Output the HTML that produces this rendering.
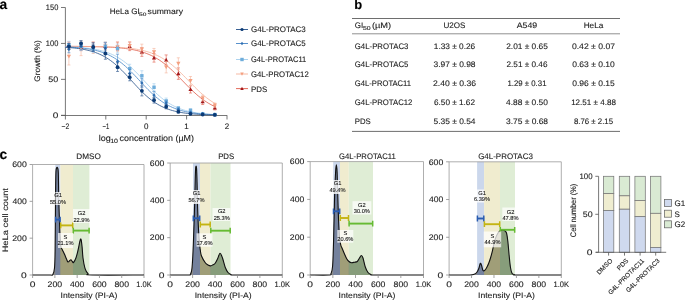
<!DOCTYPE html>
<html><head><meta charset="utf-8"><style>
html,body{margin:0;padding:0;background:#fff;width:685px;height:300px;overflow:hidden}
svg{display:block;font-family:"Liberation Sans", sans-serif;will-change:transform;text-rendering:geometricPrecision}
text{stroke:#1a1a1a;stroke-width:0.1px}
</style></head><body>
<svg width="685" height="300" viewBox="0 0 685 300">
<rect width="685" height="300" fill="#fff"/>
<text x="-0.5" y="8.8" font-size="13.8" font-weight="bold" fill="#000">a</text>
<path d="M65.4,7.5 V115.5 M61,115.5 H227.2" stroke="#555" stroke-width="0.8" fill="none"/>
<path d="M61,115.3 H65.4" stroke="#555" stroke-width="0.8"/>
<text x="58.3" y="118.1" font-size="8" text-anchor="end" textLength="5.59" lengthAdjust="spacingAndGlyphs" fill="#1a1a1a">0</text>
<path d="M61,79.36 H65.4" stroke="#555" stroke-width="0.8"/>
<text x="58.3" y="82.16" font-size="8" text-anchor="end" textLength="9.91" lengthAdjust="spacingAndGlyphs" fill="#1a1a1a">50</text>
<path d="M61,43.43 H65.4" stroke="#555" stroke-width="0.8"/>
<text x="58.3" y="46.23" font-size="8" text-anchor="end" textLength="12.45" lengthAdjust="spacingAndGlyphs" fill="#1a1a1a">100</text>
<path d="M61,7.49 H65.4" stroke="#555" stroke-width="0.8"/>
<text x="58.3" y="10.29" font-size="8" text-anchor="end" textLength="12.45" lengthAdjust="spacingAndGlyphs" fill="#1a1a1a">150</text>
<path d="M65.4,115.5 V119.5" stroke="#555" stroke-width="0.8"/>
<text x="65.4" y="128.6" font-size="8" text-anchor="middle" textLength="7.67" lengthAdjust="spacingAndGlyphs" fill="#1a1a1a">−2</text>
<path d="M105.8,115.5 V119.5" stroke="#555" stroke-width="0.8"/>
<text x="105.8" y="128.6" font-size="8" text-anchor="middle" textLength="6.78" lengthAdjust="spacingAndGlyphs" fill="#1a1a1a">−1</text>
<path d="M146.2,115.5 V119.5" stroke="#555" stroke-width="0.8"/>
<text x="146.2" y="128.6" font-size="8" text-anchor="middle" fill="#1a1a1a">0</text>
<path d="M186.6,115.5 V119.5" stroke="#555" stroke-width="0.8"/>
<text x="186.6" y="128.6" font-size="8" text-anchor="middle" fill="#1a1a1a">1</text>
<path d="M227,115.5 V119.5" stroke="#555" stroke-width="0.8"/>
<text x="227" y="128.6" font-size="8" text-anchor="middle" fill="#1a1a1a">2</text>
<text transform="translate(40.3,61) rotate(-90)" font-size="8" text-anchor="middle" textLength="41.43" lengthAdjust="spacingAndGlyphs" fill="#1a1a1a">Growth (%)</text>
<text x="98.8" y="140.5" font-size="8.6" textLength="11.99" lengthAdjust="spacingAndGlyphs" fill="#1a1a1a">log</text>
<text x="110.2" y="142.6" font-size="6.2" textLength="7.81" lengthAdjust="spacingAndGlyphs" fill="#1a1a1a">10</text>
<text x="119.5" y="140.5" font-size="8.6" textLength="74.53" lengthAdjust="spacingAndGlyphs" fill="#1a1a1a">concentration (µM)</text>
<text x="109.7" y="13.9" font-size="8" textLength="30" lengthAdjust="spacingAndGlyphs" fill="#1a1a1a">HeLa GI</text>
<text x="139.1" y="15.7" font-size="5" textLength="7.33" lengthAdjust="spacingAndGlyphs" fill="#1a1a1a">50</text>
<text x="147.6" y="13.9" font-size="8" textLength="35.35" lengthAdjust="spacingAndGlyphs" fill="#1a1a1a">summary</text>
<path d="M65.4,46.37 L67.28,46.37 L69.16,46.38 L71.04,46.39 L72.91,46.4 L74.79,46.41 L76.67,46.43 L78.55,46.44 L80.43,46.46 L82.31,46.48 L84.19,46.5 L86.06,46.52 L87.94,46.54 L89.82,46.57 L91.7,46.6 L93.58,46.64 L95.46,46.68 L97.34,46.72 L99.21,46.77 L101.09,46.83 L102.97,46.89 L104.85,46.96 L106.73,47.03 L108.61,47.12 L110.49,47.22 L112.37,47.32 L114.24,47.44 L116.12,47.58 L118,47.72 L119.88,47.89 L121.76,48.07 L123.64,48.28 L125.52,48.5 L127.39,48.76 L129.27,49.04 L131.15,49.35 L133.03,49.69 L134.91,50.07 L136.79,50.49 L138.67,50.96 L140.54,51.47 L142.42,52.03 L144.3,52.65 L146.18,53.33 L148.06,54.07 L149.94,54.88 L151.82,55.76 L153.69,56.72 L155.57,57.75 L157.45,58.86 L159.33,60.06 L161.21,61.34 L163.09,62.7 L164.97,64.15 L166.84,65.68 L168.72,67.28 L170.6,68.96 L172.48,70.7 L174.36,72.5 L176.24,74.35 L178.12,76.24 L179.99,78.16 L181.87,80.09 L183.75,82.03 L185.63,83.96 L187.51,85.87 L189.39,87.75 L191.27,89.59 L193.14,91.38 L195.02,93.1 L196.9,94.76 L198.78,96.34 L200.66,97.85 L202.54,99.27 L204.42,100.62 L206.29,101.87 L208.17,103.05 L210.05,104.14 L211.93,105.15 L213.81,106.09 L215.69,106.95" stroke="#e05a48" stroke-width="0.8" fill="none"/>
<path d="M65.4,46.35 L67.28,46.35 L69.16,46.36 L71.04,46.37 L72.91,46.37 L74.79,46.38 L76.67,46.39 L78.55,46.4 L80.43,46.41 L82.31,46.42 L84.19,46.44 L86.06,46.45 L87.94,46.47 L89.82,46.49 L91.7,46.51 L93.58,46.54 L95.46,46.57 L97.34,46.6 L99.21,46.63 L101.09,46.67 L102.97,46.71 L104.85,46.76 L106.73,46.81 L108.61,46.87 L110.49,46.94 L112.37,47.02 L114.24,47.1 L116.12,47.19 L118,47.3 L119.88,47.41 L121.76,47.54 L123.64,47.69 L125.52,47.85 L127.39,48.03 L129.27,48.23 L131.15,48.45 L133.03,48.7 L134.91,48.97 L136.79,49.27 L138.67,49.61 L140.54,49.98 L142.42,50.39 L144.3,50.85 L146.18,51.35 L148.06,51.9 L149.94,52.51 L151.82,53.17 L153.69,53.9 L155.57,54.69 L157.45,55.56 L159.33,56.49 L161.21,57.51 L163.09,58.61 L164.97,59.78 L166.84,61.04 L168.72,62.39 L170.6,63.82 L172.48,65.33 L174.36,66.91 L176.24,68.58 L178.12,70.3 L179.99,72.09 L181.87,73.93 L183.75,75.81 L185.63,77.72 L187.51,79.66 L189.39,81.59 L191.27,83.53 L193.14,85.44 L195.02,87.33 L196.9,89.18 L198.78,90.98 L200.66,92.72 L202.54,94.39 L204.42,95.99 L206.29,97.52 L208.17,98.96 L210.05,100.32 L211.93,101.6 L213.81,102.79 L215.69,103.9" stroke="#f5b199" stroke-width="0.8" fill="none"/>
<path d="M65.4,46.8 L67.28,46.86 L69.16,46.92 L71.04,47 L72.91,47.09 L74.79,47.18 L76.67,47.29 L78.55,47.41 L80.43,47.55 L82.31,47.7 L84.19,47.87 L86.06,48.06 L87.94,48.28 L89.82,48.52 L91.7,48.78 L93.58,49.08 L95.46,49.41 L97.34,49.78 L99.21,50.19 L101.09,50.64 L102.97,51.15 L104.85,51.71 L106.73,52.32 L108.61,53 L110.49,53.75 L112.37,54.57 L114.24,55.46 L116.12,56.44 L118,57.5 L119.88,58.65 L121.76,59.89 L123.64,61.22 L125.52,62.64 L127.39,64.16 L129.27,65.76 L131.15,67.45 L133.03,69.21 L134.91,71.05 L136.79,72.95 L138.67,74.9 L140.54,76.89 L142.42,78.9 L144.3,80.93 L146.18,82.96 L148.06,84.98 L149.94,86.96 L151.82,88.91 L153.69,90.8 L155.57,92.62 L157.45,94.38 L159.33,96.06 L161.21,97.65 L163.09,99.15 L164.97,100.56 L166.84,101.88 L168.72,103.11 L170.6,104.24 L172.48,105.29 L174.36,106.26 L176.24,107.15 L178.12,107.96 L179.99,108.69 L181.87,109.36 L183.75,109.97 L185.63,110.52 L187.51,111.02 L189.39,111.47 L191.27,111.88 L193.14,112.24 L195.02,112.57 L196.9,112.86 L198.78,113.12 L200.66,113.36 L202.54,113.57 L204.42,113.76 L206.29,113.92 L208.17,114.07 L210.05,114.21 L211.93,114.33 L213.81,114.43 L215.69,114.53" stroke="#a2cdec" stroke-width="0.8" fill="none"/>
<path d="M65.4,46.95 L67.28,47.03 L69.16,47.12 L71.04,47.22 L72.91,47.33 L74.79,47.46 L76.67,47.6 L78.55,47.76 L80.43,47.94 L82.31,48.14 L84.19,48.36 L86.06,48.61 L87.94,48.89 L89.82,49.2 L91.7,49.54 L93.58,49.92 L95.46,50.35 L97.34,50.82 L99.21,51.35 L101.09,51.93 L102.97,52.56 L104.85,53.27 L106.73,54.04 L108.61,54.89 L110.49,55.81 L112.37,56.82 L114.24,57.91 L116.12,59.09 L118,60.37 L119.88,61.73 L121.76,63.19 L123.64,64.73 L125.52,66.37 L127.39,68.08 L129.27,69.88 L131.15,71.74 L133.03,73.66 L134.91,75.62 L136.79,77.62 L138.67,79.65 L140.54,81.68 L142.42,83.7 L144.3,85.71 L146.18,87.68 L148.06,89.6 L149.94,91.47 L151.82,93.27 L153.69,95 L155.57,96.65 L157.45,98.21 L159.33,99.68 L161.21,101.05 L163.09,102.34 L164.97,103.53 L166.84,104.64 L168.72,105.66 L170.6,106.59 L172.48,107.45 L174.36,108.23 L176.24,108.95 L178.12,109.59 L179.99,110.18 L181.87,110.71 L183.75,111.19 L185.63,111.62 L187.51,112.01 L189.39,112.36 L191.27,112.68 L193.14,112.96 L195.02,113.21 L196.9,113.44 L198.78,113.64 L200.66,113.82 L202.54,113.98 L204.42,114.12 L206.29,114.25 L208.17,114.37 L210.05,114.47 L211.93,114.56 L213.81,114.64 L215.69,114.72" stroke="#4585c6" stroke-width="0.8" fill="none"/>
<path d="M65.4,47.3 L67.28,47.42 L69.16,47.56 L71.04,47.72 L72.91,47.89 L74.79,48.09 L76.67,48.31 L78.55,48.55 L80.43,48.83 L82.31,49.14 L84.19,49.48 L86.06,49.87 L87.94,50.3 L89.82,50.77 L91.7,51.3 L93.58,51.88 L95.46,52.53 L97.34,53.24 L99.21,54.03 L101.09,54.89 L102.97,55.83 L104.85,56.86 L106.73,57.98 L108.61,59.19 L110.49,60.49 L112.37,61.89 L114.24,63.39 L116.12,64.97 L118,66.65 L119.88,68.41 L121.76,70.25 L123.64,72.16 L125.52,74.13 L127.39,76.14 L129.27,78.18 L131.15,80.25 L133.03,82.31 L134.91,84.37 L136.79,86.4 L138.67,88.39 L140.54,90.33 L142.42,92.21 L144.3,94.02 L146.18,95.74 L148.06,97.38 L149.94,98.92 L151.82,100.37 L153.69,101.73 L155.57,102.99 L157.45,104.15 L159.33,105.23 L161.21,106.22 L163.09,107.12 L164.97,107.95 L166.84,108.7 L168.72,109.38 L170.6,110 L172.48,110.56 L174.36,111.06 L176.24,111.51 L178.12,111.92 L179.99,112.28 L181.87,112.61 L183.75,112.91 L185.63,113.17 L187.51,113.4 L189.39,113.61 L191.27,113.8 L193.14,113.96 L195.02,114.11 L196.9,114.24 L198.78,114.36 L200.66,114.47 L202.54,114.56 L204.42,114.64 L206.29,114.72 L208.17,114.78 L210.05,114.84 L211.93,114.89 L213.81,114.94 L215.69,114.98" stroke="#234f88" stroke-width="0.8" fill="none"/>
<path d="M68.9,41.99 V49.18 M67.3,41.99 H70.4 M67.4,49.18 H70.4" stroke="#e05a48" stroke-width="0.6"/>
<path d="M68.9,43.49 L71,47.27 L66.8,47.27Z" fill="#a3191c"/>
<path d="M81.06,43.43 V50.62 M79.46,43.43 H82.56 M79.56,50.62 H82.56" stroke="#e05a48" stroke-width="0.6"/>
<path d="M81.06,44.92 L83.16,48.7 L78.96,48.7Z" fill="#a3191c"/>
<path d="M93.22,41.99 V50.62 M91.62,41.99 H94.72 M91.72,50.62 H94.72" stroke="#e05a48" stroke-width="0.6"/>
<path d="M93.22,44.2 L95.32,47.98 L91.12,47.98Z" fill="#a3191c"/>
<path d="M105.39,42.71 V49.9 M103.79,42.71 H106.89 M103.89,49.9 H106.89" stroke="#e05a48" stroke-width="0.6"/>
<path d="M105.39,44.2 L107.49,47.98 L103.29,47.98Z" fill="#a3191c"/>
<path d="M117.55,41.99 V50.62 M115.95,41.99 H119.05 M116.05,50.62 H119.05" stroke="#e05a48" stroke-width="0.6"/>
<path d="M117.55,44.2 L119.65,47.98 L115.45,47.98Z" fill="#a3191c"/>
<path d="M129.71,41.99 V50.62 M128.11,41.99 H131.21 M128.21,50.62 H131.21" stroke="#e05a48" stroke-width="0.6"/>
<path d="M129.71,44.2 L131.81,47.98 L127.61,47.98Z" fill="#a3191c"/>
<path d="M141.87,47.74 V56.37 M140.27,47.74 H143.37 M140.37,56.37 H143.37" stroke="#e05a48" stroke-width="0.6"/>
<path d="M141.87,49.95 L143.97,53.73 L139.77,53.73Z" fill="#a3191c"/>
<path d="M154.03,53.49 V62.12 M152.43,53.49 H155.53 M152.53,62.12 H155.53" stroke="#e05a48" stroke-width="0.6"/>
<path d="M154.03,55.7 L156.13,59.48 L151.93,59.48Z" fill="#a3191c"/>
<path d="M166.19,54.93 V64.99 M164.59,54.93 H167.69 M164.69,64.99 H167.69" stroke="#e05a48" stroke-width="0.6"/>
<path d="M166.19,57.86 L168.29,61.64 L164.09,61.64Z" fill="#a3191c"/>
<path d="M178.35,67.87 V79.36 M176.75,67.87 H179.85 M176.85,79.36 H179.85" stroke="#e05a48" stroke-width="0.6"/>
<path d="M178.35,71.52 L180.45,75.3 L176.25,75.3Z" fill="#a3191c"/>
<path d="M190.52,85.83 V93.02 M188.92,85.83 H192.02 M189.02,93.02 H192.02" stroke="#e05a48" stroke-width="0.6"/>
<path d="M190.52,87.33 L192.62,91.11 L188.42,91.11Z" fill="#a3191c"/>
<path d="M202.68,98.77 V104.52 M201.08,98.77 H204.18 M201.18,104.52 H204.18" stroke="#e05a48" stroke-width="0.6"/>
<path d="M202.68,99.54 L204.78,103.32 L200.58,103.32Z" fill="#a3191c"/>
<path d="M214.84,105.6 V109.91 M213.24,105.6 H216.34 M213.34,109.91 H216.34" stroke="#e05a48" stroke-width="0.6"/>
<path d="M214.84,105.65 L216.94,109.43 L212.74,109.43Z" fill="#a3191c"/>
<path d="M68.9,47.74 V64.99 M67.3,47.74 H70.4 M67.4,64.99 H70.4" stroke="#f5b199" stroke-width="0.6"/>
<path d="M68.9,58.47 L71,54.69 L66.8,54.69Z" fill="#f4a080"/>
<path d="M81.06,41.27 V55.65 M79.46,41.27 H82.56 M79.56,55.65 H82.56" stroke="#f5b199" stroke-width="0.6"/>
<path d="M81.06,50.56 L83.16,46.78 L78.96,46.78Z" fill="#f4a080"/>
<path d="M93.22,44.87 V53.49 M91.62,44.87 H94.72 M91.72,53.49 H94.72" stroke="#f5b199" stroke-width="0.6"/>
<path d="M93.22,51.28 L95.32,47.5 L91.12,47.5Z" fill="#f4a080"/>
<path d="M105.39,41.99 V50.62 M103.79,41.99 H106.89 M103.89,50.62 H106.89" stroke="#f5b199" stroke-width="0.6"/>
<path d="M105.39,48.4 L107.49,44.62 L103.29,44.62Z" fill="#f4a080"/>
<path d="M117.55,42.71 V51.34 M115.95,42.71 H119.05 M116.05,51.34 H119.05" stroke="#f5b199" stroke-width="0.6"/>
<path d="M117.55,49.12 L119.65,45.34 L115.45,45.34Z" fill="#f4a080"/>
<path d="M129.71,41.99 V49.18 M128.11,41.99 H131.21 M128.21,49.18 H131.21" stroke="#f5b199" stroke-width="0.6"/>
<path d="M129.71,47.69 L131.81,43.91 L127.61,43.91Z" fill="#f4a080"/>
<path d="M141.87,44.15 V54.21 M140.27,44.15 H143.37 M140.37,54.21 H143.37" stroke="#f5b199" stroke-width="0.6"/>
<path d="M141.87,51.28 L143.97,47.5 L139.77,47.5Z" fill="#f4a080"/>
<path d="M154.03,48.46 V55.65 M152.43,48.46 H155.53 M152.53,55.65 H155.53" stroke="#f5b199" stroke-width="0.6"/>
<path d="M154.03,54.15 L156.13,50.37 L151.93,50.37Z" fill="#f4a080"/>
<path d="M166.19,61.4 V72.9 M164.59,61.4 H167.69 M164.69,72.9 H167.69" stroke="#f5b199" stroke-width="0.6"/>
<path d="M166.19,69.25 L168.29,65.47 L164.09,65.47Z" fill="#f4a080"/>
<path d="M178.35,57.8 V69.3 M176.75,57.8 H179.85 M176.85,69.3 H179.85" stroke="#f5b199" stroke-width="0.6"/>
<path d="M178.35,65.65 L180.45,61.87 L176.25,61.87Z" fill="#f4a080"/>
<path d="M190.52,76.49 V85.11 M188.92,76.49 H192.02 M189.02,85.11 H192.02" stroke="#f5b199" stroke-width="0.6"/>
<path d="M190.52,82.9 L192.62,79.12 L188.42,79.12Z" fill="#f4a080"/>
<path d="M202.68,95.18 V100.93 M201.08,95.18 H204.18 M201.18,100.93 H204.18" stroke="#f5b199" stroke-width="0.6"/>
<path d="M202.68,100.15 L204.78,96.37 L200.58,96.37Z" fill="#f4a080"/>
<path d="M214.84,103.08 V107.39 M213.24,103.08 H216.34 M213.34,107.39 H216.34" stroke="#f5b199" stroke-width="0.6"/>
<path d="M214.84,107.34 L216.94,103.56 L212.74,103.56Z" fill="#f4a080"/>
<path d="M68.9,41.27 V48.46 M67.3,41.27 H70.4 M67.4,48.46 H70.4" stroke="#a2cdec" stroke-width="0.6"/>
<rect x="67.2" y="43.17" width="3.4" height="3.4" fill="#6eaddb"/>
<path d="M81.06,41.99 V50.62 M79.46,41.99 H82.56 M79.56,50.62 H82.56" stroke="#a2cdec" stroke-width="0.6"/>
<rect x="79.36" y="44.6" width="3.4" height="3.4" fill="#6eaddb"/>
<path d="M93.22,45.59 V52.77 M91.62,45.59 H94.72 M91.72,52.77 H94.72" stroke="#a2cdec" stroke-width="0.6"/>
<rect x="91.52" y="47.48" width="3.4" height="3.4" fill="#6eaddb"/>
<path d="M105.39,41.99 V50.62 M103.79,41.99 H106.89 M103.89,50.62 H106.89" stroke="#a2cdec" stroke-width="0.6"/>
<rect x="103.69" y="44.6" width="3.4" height="3.4" fill="#6eaddb"/>
<path d="M117.55,44.15 V52.77 M115.95,44.15 H119.05 M116.05,52.77 H119.05" stroke="#a2cdec" stroke-width="0.6"/>
<rect x="115.85" y="46.76" width="3.4" height="3.4" fill="#6eaddb"/>
<path d="M129.71,64.27 V72.9 M128.11,64.27 H131.21 M128.21,72.9 H131.21" stroke="#a2cdec" stroke-width="0.6"/>
<rect x="128.01" y="66.88" width="3.4" height="3.4" fill="#6eaddb"/>
<path d="M141.87,70.74 V80.8 M140.27,70.74 H143.37 M140.37,80.8 H143.37" stroke="#a2cdec" stroke-width="0.6"/>
<rect x="140.17" y="74.07" width="3.4" height="3.4" fill="#6eaddb"/>
<path d="M154.03,83.68 V90.86 M152.43,83.68 H155.53 M152.53,90.86 H155.53" stroke="#a2cdec" stroke-width="0.6"/>
<rect x="152.33" y="85.57" width="3.4" height="3.4" fill="#6eaddb"/>
<path d="M166.19,98.05 V103.8 M164.59,98.05 H167.69 M164.69,103.8 H167.69" stroke="#a2cdec" stroke-width="0.6"/>
<rect x="164.49" y="99.23" width="3.4" height="3.4" fill="#6eaddb"/>
<path d="M178.35,106.68 V109.55 M176.75,106.68 H179.85 M176.85,109.55 H179.85" stroke="#a2cdec" stroke-width="0.6"/>
<rect x="176.65" y="106.41" width="3.4" height="3.4" fill="#6eaddb"/>
<path d="M190.52,108.83 V111.71 M188.92,108.83 H192.02 M189.02,111.71 H192.02" stroke="#a2cdec" stroke-width="0.6"/>
<rect x="188.82" y="108.57" width="3.4" height="3.4" fill="#6eaddb"/>
<path d="M202.68,113.14 V114.58 M201.08,113.14 H204.18 M201.18,114.58 H204.18" stroke="#a2cdec" stroke-width="0.6"/>
<rect x="200.98" y="112.16" width="3.4" height="3.4" fill="#6eaddb"/>
<path d="M214.84,113.86 V115.3 M213.24,113.86 H216.34 M213.34,115.3 H216.34" stroke="#a2cdec" stroke-width="0.6"/>
<rect x="213.14" y="112.88" width="3.4" height="3.4" fill="#6eaddb"/>
<path d="M68.9,45.59 V52.77 M67.3,45.59 H70.4 M67.4,52.77 H70.4" stroke="#4585c6" stroke-width="0.6"/>
<path d="M68.9,47.18 L70.5,49.18 L68.9,51.18 L67.3,49.18Z" fill="#2f6fb3"/>
<path d="M81.06,42.71 V49.9 M79.46,42.71 H82.56 M79.56,49.9 H82.56" stroke="#4585c6" stroke-width="0.6"/>
<path d="M81.06,44.3 L82.66,46.3 L81.06,48.3 L79.46,46.3Z" fill="#2f6fb3"/>
<path d="M93.22,44.15 V51.34 M91.62,44.15 H94.72 M91.72,51.34 H94.72" stroke="#4585c6" stroke-width="0.6"/>
<path d="M93.22,45.74 L94.82,47.74 L93.22,49.74 L91.62,47.74Z" fill="#2f6fb3"/>
<path d="M105.39,42.71 V54.21 M103.79,42.71 H106.89 M103.89,54.21 H106.89" stroke="#4585c6" stroke-width="0.6"/>
<path d="M105.39,46.46 L106.99,48.46 L105.39,50.46 L103.79,48.46Z" fill="#2f6fb3"/>
<path d="M117.55,54.21 V68.58 M115.95,54.21 H119.05 M116.05,68.58 H119.05" stroke="#4585c6" stroke-width="0.6"/>
<path d="M117.55,59.4 L119.15,61.4 L117.55,63.4 L115.95,61.4Z" fill="#2f6fb3"/>
<path d="M129.71,69.3 V77.93 M128.11,69.3 H131.21 M128.21,77.93 H131.21" stroke="#4585c6" stroke-width="0.6"/>
<path d="M129.71,71.62 L131.31,73.62 L129.71,75.62 L128.11,73.62Z" fill="#2f6fb3"/>
<path d="M141.87,78.65 V87.27 M140.27,78.65 H143.37 M140.37,87.27 H143.37" stroke="#4585c6" stroke-width="0.6"/>
<path d="M141.87,80.96 L143.47,82.96 L141.87,84.96 L140.27,82.96Z" fill="#2f6fb3"/>
<path d="M154.03,91.58 V98.77 M152.43,91.58 H155.53 M152.53,98.77 H155.53" stroke="#4585c6" stroke-width="0.6"/>
<path d="M154.03,93.18 L155.63,95.18 L154.03,97.18 L152.43,95.18Z" fill="#2f6fb3"/>
<path d="M166.19,100.93 V105.24 M164.59,100.93 H167.69 M164.69,105.24 H167.69" stroke="#4585c6" stroke-width="0.6"/>
<path d="M166.19,101.08 L167.79,103.08 L166.19,105.08 L164.59,103.08Z" fill="#2f6fb3"/>
<path d="M178.35,108.11 V110.99 M176.75,108.11 H179.85 M176.85,110.99 H179.85" stroke="#4585c6" stroke-width="0.6"/>
<path d="M178.35,107.55 L179.95,109.55 L178.35,111.55 L176.75,109.55Z" fill="#2f6fb3"/>
<path d="M190.52,111.71 V113.14 M188.92,111.71 H192.02 M189.02,113.14 H192.02" stroke="#4585c6" stroke-width="0.6"/>
<path d="M190.52,110.43 L192.12,112.43 L190.52,114.43 L188.92,112.43Z" fill="#2f6fb3"/>
<path d="M202.68,113.14 V114.58 M201.08,113.14 H204.18 M201.18,114.58 H204.18" stroke="#4585c6" stroke-width="0.6"/>
<path d="M202.68,111.86 L204.28,113.86 L202.68,115.86 L201.08,113.86Z" fill="#2f6fb3"/>
<path d="M214.84,113.86 V115.3 M213.24,113.86 H216.34 M213.34,115.3 H216.34" stroke="#4585c6" stroke-width="0.6"/>
<path d="M214.84,112.58 L216.44,114.58 L214.84,116.58 L213.24,114.58Z" fill="#2f6fb3"/>
<path d="M68.9,43.43 V49.18 M67.3,43.43 H70.4 M67.4,49.18 H70.4" stroke="#234f88" stroke-width="0.6"/>
<circle cx="68.9" cy="46.3" r="1.9" fill="#0b3a75"/>
<path d="M81.06,40.56 V46.3 M79.46,40.56 H82.56 M79.56,46.3 H82.56" stroke="#234f88" stroke-width="0.6"/>
<circle cx="81.06" cy="43.43" r="1.9" fill="#0b3a75"/>
<path d="M93.22,42.71 V51.34 M91.62,42.71 H94.72 M91.72,51.34 H94.72" stroke="#234f88" stroke-width="0.6"/>
<circle cx="93.22" cy="47.02" r="1.9" fill="#0b3a75"/>
<path d="M105.39,47.74 V59.24 M103.79,47.74 H106.89 M103.89,59.24 H106.89" stroke="#234f88" stroke-width="0.6"/>
<circle cx="105.39" cy="53.49" r="1.9" fill="#0b3a75"/>
<path d="M117.55,62.83 V71.46 M115.95,62.83 H119.05 M116.05,71.46 H119.05" stroke="#234f88" stroke-width="0.6"/>
<circle cx="117.55" cy="67.15" r="1.9" fill="#0b3a75"/>
<path d="M129.71,73.62 V80.8 M128.11,73.62 H131.21 M128.21,80.8 H131.21" stroke="#234f88" stroke-width="0.6"/>
<circle cx="129.71" cy="77.21" r="1.9" fill="#0b3a75"/>
<path d="M141.87,85.83 V95.9 M140.27,85.83 H143.37 M140.37,95.9 H143.37" stroke="#234f88" stroke-width="0.6"/>
<circle cx="141.87" cy="90.86" r="1.9" fill="#0b3a75"/>
<path d="M154.03,97.33 V103.08 M152.43,97.33 H155.53 M152.53,103.08 H155.53" stroke="#234f88" stroke-width="0.6"/>
<circle cx="154.03" cy="100.21" r="1.9" fill="#0b3a75"/>
<path d="M166.19,104.52 V108.83 M164.59,104.52 H167.69 M164.69,108.83 H167.69" stroke="#234f88" stroke-width="0.6"/>
<circle cx="166.19" cy="106.68" r="1.9" fill="#0b3a75"/>
<path d="M178.35,110.27 V113.14 M176.75,110.27 H179.85 M176.85,113.14 H179.85" stroke="#234f88" stroke-width="0.6"/>
<circle cx="178.35" cy="111.71" r="1.9" fill="#0b3a75"/>
<path d="M190.52,113.14 V114.58 M188.92,113.14 H192.02 M189.02,114.58 H192.02" stroke="#234f88" stroke-width="0.6"/>
<circle cx="190.52" cy="113.86" r="1.9" fill="#0b3a75"/>
<path d="M202.68,113.86 V115.3 M201.08,113.86 H204.18 M201.18,115.3 H204.18" stroke="#234f88" stroke-width="0.6"/>
<circle cx="202.68" cy="114.58" r="1.9" fill="#0b3a75"/>
<path d="M214.84,114.22 V115.66 M213.24,114.22 H216.34 M213.34,115.66 H216.34" stroke="#234f88" stroke-width="0.6"/>
<circle cx="214.84" cy="114.94" r="1.9" fill="#0b3a75"/>
<path d="M236,29.5 H248" stroke="#234f88" stroke-width="0.9"/>
<circle cx="242" cy="29.5" r="1.61" fill="#0b3a75"/>
<text x="251" y="32.4" font-size="8" textLength="54.75" lengthAdjust="spacingAndGlyphs" fill="#1a1a1a">G4L-PROTAC3</text>
<path d="M236,43.5 H248" stroke="#4585c6" stroke-width="0.9"/>
<path d="M242,41.8 L243.36,43.5 L242,45.2 L240.64,43.5Z" fill="#2f6fb3"/>
<text x="251" y="46.4" font-size="8" textLength="54.73" lengthAdjust="spacingAndGlyphs" fill="#1a1a1a">G4L-PROTAC5</text>
<path d="M236,59.5 H248" stroke="#a2cdec" stroke-width="0.9"/>
<rect x="240.3" y="57.8" width="3.4" height="3.4" fill="#6eaddb"/>
<text x="251" y="62.4" font-size="8" textLength="55.25" lengthAdjust="spacingAndGlyphs" fill="#1a1a1a">G4L-PROTAC11</text>
<path d="M236,74 H248" stroke="#f5b199" stroke-width="0.9"/>
<path d="M242,75.78 L243.78,72.57 L240.22,72.57Z" fill="#f4a080"/>
<text x="251" y="76.9" font-size="8" textLength="57.78" lengthAdjust="spacingAndGlyphs" fill="#1a1a1a">G4L-PROTAC12</text>
<path d="M236,88.6 H248" stroke="#e05a48" stroke-width="0.9"/>
<path d="M242,86.81 L243.78,90.03 L240.22,90.03Z" fill="#a3191c"/>
<text x="251" y="91.5" font-size="8" textLength="16.21" lengthAdjust="spacingAndGlyphs" fill="#1a1a1a">PDS</text>
<text x="354.3" y="9.2" font-size="13" font-weight="bold" fill="#000">b</text>
<path d="M352,18.5 H620 M352,131.4 H620" stroke="#666" stroke-width="0.95"/>
<path d="M352,33.8 H620" stroke="#8a8a8a" stroke-width="0.95"/>
<text x="354.7" y="28.3" font-size="8" textLength="8.45" lengthAdjust="spacingAndGlyphs" fill="#1a1a1a">GI</text>
<text x="363" y="29.9" font-size="5.8" textLength="7.65" lengthAdjust="spacingAndGlyphs" fill="#1a1a1a">50</text>
<text x="371.9" y="28.3" font-size="8" textLength="19.26" lengthAdjust="spacingAndGlyphs" fill="#1a1a1a">(µM)</text>
<text x="454.5" y="28.3" font-size="8" text-anchor="middle" textLength="22.02" lengthAdjust="spacingAndGlyphs" fill="#1a1a1a">U2OS</text>
<text x="527" y="28.3" font-size="8" text-anchor="middle" textLength="20.42" lengthAdjust="spacingAndGlyphs" fill="#1a1a1a">A549</text>
<text x="593.5" y="28.3" font-size="8" text-anchor="middle" textLength="19.69" lengthAdjust="spacingAndGlyphs" fill="#1a1a1a">HeLa</text>
<text x="354.8" y="48.6" font-size="8" textLength="53.64" lengthAdjust="spacingAndGlyphs" fill="#1a1a1a">G4L-PROTAC3</text>
<text x="454.5" y="48.6" font-size="8" text-anchor="middle" textLength="41.39" lengthAdjust="spacingAndGlyphs" fill="#1a1a1a">1.33 ± 0.26</text>
<text x="527" y="48.6" font-size="8" text-anchor="middle" textLength="41.57" lengthAdjust="spacingAndGlyphs" fill="#1a1a1a">2.01 ± 0.65</text>
<text x="593.5" y="48.6" font-size="8" text-anchor="middle" textLength="43.2" lengthAdjust="spacingAndGlyphs" fill="#1a1a1a">0.42 ± 0.07</text>
<text x="354.8" y="67.4" font-size="8" textLength="53.62" lengthAdjust="spacingAndGlyphs" fill="#1a1a1a">G4L-PROTAC5</text>
<text x="454.5" y="67.4" font-size="8" text-anchor="middle" textLength="42.09" lengthAdjust="spacingAndGlyphs" fill="#1a1a1a">3.97 ± 0.98</text>
<text x="527" y="67.4" font-size="8" text-anchor="middle" textLength="40.98" lengthAdjust="spacingAndGlyphs" fill="#1a1a1a">2.51 ± 0.46</text>
<text x="593.5" y="67.4" font-size="8" text-anchor="middle" textLength="42.48" lengthAdjust="spacingAndGlyphs" fill="#1a1a1a">0.63 ± 0.10</text>
<text x="354.8" y="86.3" font-size="8" textLength="56.26" lengthAdjust="spacingAndGlyphs" fill="#1a1a1a">G4L-PROTAC11</text>
<text x="454.5" y="86.3" font-size="8" text-anchor="middle" textLength="43.12" lengthAdjust="spacingAndGlyphs" fill="#1a1a1a">2.40 ± 0.36</text>
<text x="527" y="86.3" font-size="8" text-anchor="middle" textLength="38.97" lengthAdjust="spacingAndGlyphs" fill="#1a1a1a">1.29 ± 0.31</text>
<text x="593.5" y="86.3" font-size="8" text-anchor="middle" textLength="42.5" lengthAdjust="spacingAndGlyphs" fill="#1a1a1a">0.96 ± 0.15</text>
<text x="354.8" y="105.1" font-size="8" textLength="57.58" lengthAdjust="spacingAndGlyphs" fill="#1a1a1a">G4L-PROTAC12</text>
<text x="454.5" y="105.1" font-size="8" text-anchor="middle" textLength="41.04" lengthAdjust="spacingAndGlyphs" fill="#1a1a1a">6.50 ± 1.62</text>
<text x="527" y="105.1" font-size="8" text-anchor="middle" textLength="41.92" lengthAdjust="spacingAndGlyphs" fill="#1a1a1a">4.88 ± 0.50</text>
<text x="593.5" y="105.1" font-size="8" text-anchor="middle" textLength="44.75" lengthAdjust="spacingAndGlyphs" fill="#1a1a1a">12.51 ± 4.88</text>
<text x="354.8" y="124" font-size="8" textLength="16" lengthAdjust="spacingAndGlyphs" fill="#1a1a1a">PDS</text>
<text x="454.5" y="124" font-size="8" text-anchor="middle" textLength="41.99" lengthAdjust="spacingAndGlyphs" fill="#1a1a1a">5.35 ± 0.54</text>
<text x="527" y="124" font-size="8" text-anchor="middle" textLength="42.09" lengthAdjust="spacingAndGlyphs" fill="#1a1a1a">3.75 ± 0.68</text>
<text x="593.5" y="124" font-size="8" text-anchor="middle" textLength="39.16" lengthAdjust="spacingAndGlyphs" fill="#1a1a1a">8.76 ± 2.15</text>
<text x="-0.5" y="158.5" font-size="13.8" font-weight="bold" fill="#000">c</text>
<text transform="translate(7.6,220.2) rotate(-90)" font-size="8" text-anchor="middle" textLength="64.35" lengthAdjust="spacingAndGlyphs" fill="#1a1a1a">HeLa cell count</text>
<rect x="55.3" y="164.5" width="5.1" height="110.5" fill="#cbd7ec"/>
<rect x="60.4" y="164.5" width="12.6" height="110.5" fill="#f0eccf"/>
<rect x="73" y="164.5" width="16.4" height="110.5" fill="#dfedd5"/>
<clipPath id="clip32"><path d="M32.6,275 C35.5,275 46.63,275.07 50,275 C53.37,274.93 52.05,275.77 52.8,274.6 C53.55,273.43 54.12,272.1 54.5,268 C54.88,263.9 54.93,261.33 55.1,250 C55.27,238.67 55.37,212.83 55.5,200 C55.63,187.17 55.72,178.33 55.9,173 C56.08,167.67 56.32,168.83 56.6,168 C56.88,167.17 57.32,167.17 57.6,168 C57.88,168.83 58.1,167.67 58.3,173 C58.5,178.33 58.55,190.5 58.8,200 C59.05,209.5 59.47,222.33 59.8,230 C60.13,237.67 60.4,242.75 60.8,246 C61.2,249.25 61.58,248.12 62.2,249.5 C62.82,250.88 63.78,252.72 64.5,254.3 C65.22,255.88 65.92,257.72 66.5,259 C67.08,260.28 67.45,261.75 68,262 C68.55,262.25 69.3,260.87 69.8,260.5 C70.3,260.13 70.58,259.63 71,259.8 C71.42,259.97 71.88,261.05 72.3,261.5 C72.72,261.95 72.88,263.12 73.5,262.5 C74.12,261.88 75.2,260.05 76,257.8 C76.8,255.55 77.53,252.13 78.3,249 C79.07,245.87 79.98,239.5 80.6,239 C81.22,238.5 81.6,242.83 82,246 C82.4,249.17 82.5,254.28 83,258 C83.5,261.72 84.17,265.7 85,268.3 C85.83,270.9 86.83,272.48 88,273.6 C89.17,274.72 82.67,274.77 92,275 C101.33,275.23 135.33,275 144,275 Z"/></clipPath>
<g clip-path="url(#clip32)">
<rect x="32.6" y="164.5" width="111.4" height="110.5" fill="#8c8c8c"/>
<rect x="55.3" y="164.5" width="5.1" height="110.5" fill="#74819d"/>
<rect x="60.4" y="164.5" width="12.6" height="110.5" fill="#a09e78"/>
<rect x="73" y="164.5" width="16.4" height="110.5" fill="#879d7b"/>
</g>
<path d="M32.6,275 V164.5 H144 V275" fill="none" stroke="#9a9a9a" stroke-width="0.8"/>
<path d="M32.6,275 C35.5,275 46.63,275.07 50,275 C53.37,274.93 52.05,275.77 52.8,274.6 C53.55,273.43 54.12,272.1 54.5,268 C54.88,263.9 54.93,261.33 55.1,250 C55.27,238.67 55.37,212.83 55.5,200 C55.63,187.17 55.72,178.33 55.9,173 C56.08,167.67 56.32,168.83 56.6,168 C56.88,167.17 57.32,167.17 57.6,168 C57.88,168.83 58.1,167.67 58.3,173 C58.5,178.33 58.55,190.5 58.8,200 C59.05,209.5 59.47,222.33 59.8,230 C60.13,237.67 60.4,242.75 60.8,246 C61.2,249.25 61.58,248.12 62.2,249.5 C62.82,250.88 63.78,252.72 64.5,254.3 C65.22,255.88 65.92,257.72 66.5,259 C67.08,260.28 67.45,261.75 68,262 C68.55,262.25 69.3,260.87 69.8,260.5 C70.3,260.13 70.58,259.63 71,259.8 C71.42,259.97 71.88,261.05 72.3,261.5 C72.72,261.95 72.88,263.12 73.5,262.5 C74.12,261.88 75.2,260.05 76,257.8 C76.8,255.55 77.53,252.13 78.3,249 C79.07,245.87 79.98,239.5 80.6,239 C81.22,238.5 81.6,242.83 82,246 C82.4,249.17 82.5,254.28 83,258 C83.5,261.72 84.17,265.7 85,268.3 C85.83,270.9 86.83,272.48 88,273.6 C89.17,274.72 82.67,274.77 92,275 C101.33,275.23 135.33,275 144,275" fill="none" stroke="#111" stroke-width="1.1"/>
<path d="M29.6,275 H32.6" stroke="#8a8a8a" stroke-width="0.8"/>
<text x="26.8" y="277.8" font-size="8" text-anchor="end" textLength="5.71" lengthAdjust="spacingAndGlyphs" fill="#1a1a1a">0</text>
<path d="M29.6,238.17 H32.6" stroke="#8a8a8a" stroke-width="0.8"/>
<text x="26.8" y="240.97" font-size="8" text-anchor="end" textLength="14.57" lengthAdjust="spacingAndGlyphs" fill="#1a1a1a">200</text>
<path d="M29.6,201.33 H32.6" stroke="#8a8a8a" stroke-width="0.8"/>
<text x="26.8" y="204.13" font-size="8" text-anchor="end" textLength="14.32" lengthAdjust="spacingAndGlyphs" fill="#1a1a1a">400</text>
<path d="M29.6,164.5 H32.6" stroke="#8a8a8a" stroke-width="0.8"/>
<text x="26.8" y="167.3" font-size="8" text-anchor="end" textLength="14.57" lengthAdjust="spacingAndGlyphs" fill="#1a1a1a">600</text>
<path d="M32.6,275 V278" stroke="#8a8a8a" stroke-width="0.8"/>
<text x="32.6" y="287.3" font-size="8" text-anchor="middle" textLength="5.71" lengthAdjust="spacingAndGlyphs" fill="#1a1a1a">0</text>
<path d="M54.88,275 V278" stroke="#8a8a8a" stroke-width="0.8"/>
<text x="54.88" y="287.3" font-size="8" text-anchor="middle" textLength="14.57" lengthAdjust="spacingAndGlyphs" fill="#1a1a1a">200</text>
<path d="M77.16,275 V278" stroke="#8a8a8a" stroke-width="0.8"/>
<text x="77.16" y="287.3" font-size="8" text-anchor="middle" textLength="14.32" lengthAdjust="spacingAndGlyphs" fill="#1a1a1a">400</text>
<path d="M99.44,275 V278" stroke="#8a8a8a" stroke-width="0.8"/>
<text x="99.44" y="287.3" font-size="8" text-anchor="middle" textLength="14.57" lengthAdjust="spacingAndGlyphs" fill="#1a1a1a">600</text>
<path d="M121.72,275 V278" stroke="#8a8a8a" stroke-width="0.8"/>
<text x="121.72" y="287.3" font-size="8" text-anchor="middle" textLength="14.5" lengthAdjust="spacingAndGlyphs" fill="#1a1a1a">800</text>
<path d="M144,275 V278" stroke="#8a8a8a" stroke-width="0.8"/>
<text x="144" y="287.3" font-size="8" text-anchor="middle" textLength="15.46" lengthAdjust="spacingAndGlyphs" fill="#1a1a1a">1.0K</text>
<text x="89" y="297.8" font-size="8" text-anchor="middle" textLength="56.94" lengthAdjust="spacingAndGlyphs" fill="#1a1a1a">Intensity (PI-A)</text>
<text x="88.6" y="158.9" font-size="8" text-anchor="middle" textLength="24.56" lengthAdjust="spacingAndGlyphs" fill="#1a1a1a">DMSO</text>
<path d="M55.3,219.6 H60.4" stroke="#2a5cb0" stroke-width="1.9"/>
<path d="M55.6,216.7 V222.5 M60.1,216.7 V222.5" stroke="#2a5cb0" stroke-width="1.5"/>
<path d="M60.4,225.4 H73" stroke="#c4b412" stroke-width="1.9"/>
<path d="M60.7,222.5 V228.3 M72.7,222.5 V228.3" stroke="#c4b412" stroke-width="1.5"/>
<path d="M73,230.6 H89.4" stroke="#66bb33" stroke-width="1.9"/>
<path d="M73.3,227.7 V233.5 M89.1,227.7 V233.5" stroke="#66bb33" stroke-width="1.5"/>
<rect x="55.3" y="192" width="5.1" height="13" fill="#fff" fill-opacity="0.8"/>
<text x="58" y="197.3" font-size="5.7" text-anchor="middle" fill="#222">G1</text>
<text x="58" y="203.6" font-size="5.7" text-anchor="middle" fill="#222">55.0%</text>
<rect x="73" y="209" width="17" height="14" fill="#fff" fill-opacity="0.72"/>
<text x="81.5" y="215.3" font-size="5.7" text-anchor="middle" fill="#111">G2</text>
<text x="81.5" y="221.6" font-size="5.7" text-anchor="middle" fill="#111">22.9%</text>
<rect x="58" y="233" width="15" height="15" fill="#fff" fill-opacity="0.72"/>
<text x="65.5" y="238.7" font-size="5.7" text-anchor="middle" fill="#111">S</text>
<text x="65.5" y="245" font-size="5.7" text-anchor="middle" fill="#111">21.1%</text>
<rect x="193" y="163" width="7" height="112" fill="#cbd7ec"/>
<rect x="200" y="163" width="10.5" height="112" fill="#f0eccf"/>
<rect x="210.5" y="163" width="20" height="112" fill="#dfedd5"/>
<clipPath id="clip170"><path d="M170.2,275 C173.17,275 184.62,275.17 188,275 C191.38,274.83 189.83,275.17 190.5,274 C191.17,272.83 191.53,272.83 192,268 C192.47,263.17 192.87,255.5 193.3,245 C193.73,234.5 194.28,215.83 194.6,205 C194.92,194.17 195.02,186.25 195.2,180 C195.38,173.75 195.48,169.58 195.7,167.5 C195.92,165.42 196.28,165.42 196.5,167.5 C196.72,169.58 196.8,172.92 197,180 C197.2,187.08 197.37,200.33 197.7,210 C198.03,219.67 198.57,231.33 199,238 C199.43,244.67 199.88,247 200.3,250 C200.72,253 200.67,253.88 201.5,256 C202.33,258.12 204.22,261.2 205.3,262.7 C206.38,264.2 207.1,264.47 208,265 C208.9,265.53 209.87,265.93 210.7,265.9 C211.53,265.87 212.28,265.2 213,264.8 C213.72,264.4 214.25,264.47 215,263.5 C215.75,262.53 216.67,260.7 217.5,259 C218.33,257.3 219.17,253.47 220,253.3 C220.83,253.13 221.62,255.63 222.5,258 C223.38,260.37 224.38,265.08 225.3,267.5 C226.22,269.92 227.05,271.33 228,272.5 C228.95,273.67 229.67,274.08 231,274.5 C232.33,274.92 227.45,274.92 236,275 C244.55,275.08 274.58,275 282.3,275 Z"/></clipPath>
<g clip-path="url(#clip170)">
<rect x="170.2" y="163" width="112.1" height="112" fill="#8c8c8c"/>
<rect x="193" y="163" width="7" height="112" fill="#74819d"/>
<rect x="200" y="163" width="10.5" height="112" fill="#a09e78"/>
<rect x="210.5" y="163" width="20" height="112" fill="#879d7b"/>
</g>
<path d="M170.2,275 V163 H282.3 V275" fill="none" stroke="#9a9a9a" stroke-width="0.8"/>
<path d="M170.2,275 C173.17,275 184.62,275.17 188,275 C191.38,274.83 189.83,275.17 190.5,274 C191.17,272.83 191.53,272.83 192,268 C192.47,263.17 192.87,255.5 193.3,245 C193.73,234.5 194.28,215.83 194.6,205 C194.92,194.17 195.02,186.25 195.2,180 C195.38,173.75 195.48,169.58 195.7,167.5 C195.92,165.42 196.28,165.42 196.5,167.5 C196.72,169.58 196.8,172.92 197,180 C197.2,187.08 197.37,200.33 197.7,210 C198.03,219.67 198.57,231.33 199,238 C199.43,244.67 199.88,247 200.3,250 C200.72,253 200.67,253.88 201.5,256 C202.33,258.12 204.22,261.2 205.3,262.7 C206.38,264.2 207.1,264.47 208,265 C208.9,265.53 209.87,265.93 210.7,265.9 C211.53,265.87 212.28,265.2 213,264.8 C213.72,264.4 214.25,264.47 215,263.5 C215.75,262.53 216.67,260.7 217.5,259 C218.33,257.3 219.17,253.47 220,253.3 C220.83,253.13 221.62,255.63 222.5,258 C223.38,260.37 224.38,265.08 225.3,267.5 C226.22,269.92 227.05,271.33 228,272.5 C228.95,273.67 229.67,274.08 231,274.5 C232.33,274.92 227.45,274.92 236,275 C244.55,275.08 274.58,275 282.3,275" fill="none" stroke="#111" stroke-width="1.1"/>
<path d="M167.2,275 H170.2" stroke="#8a8a8a" stroke-width="0.8"/>
<text x="164.4" y="277.8" font-size="8" text-anchor="end" textLength="5.71" lengthAdjust="spacingAndGlyphs" fill="#1a1a1a">0</text>
<path d="M167.2,237.67 H170.2" stroke="#8a8a8a" stroke-width="0.8"/>
<text x="164.4" y="240.47" font-size="8" text-anchor="end" textLength="14.57" lengthAdjust="spacingAndGlyphs" fill="#1a1a1a">200</text>
<path d="M167.2,200.33 H170.2" stroke="#8a8a8a" stroke-width="0.8"/>
<text x="164.4" y="203.13" font-size="8" text-anchor="end" textLength="14.32" lengthAdjust="spacingAndGlyphs" fill="#1a1a1a">400</text>
<path d="M167.2,163 H170.2" stroke="#8a8a8a" stroke-width="0.8"/>
<text x="164.4" y="165.8" font-size="8" text-anchor="end" textLength="14.57" lengthAdjust="spacingAndGlyphs" fill="#1a1a1a">600</text>
<path d="M170.2,275 V278" stroke="#8a8a8a" stroke-width="0.8"/>
<text x="170.2" y="287.3" font-size="8" text-anchor="middle" textLength="5.71" lengthAdjust="spacingAndGlyphs" fill="#1a1a1a">0</text>
<path d="M192.62,275 V278" stroke="#8a8a8a" stroke-width="0.8"/>
<text x="192.62" y="287.3" font-size="8" text-anchor="middle" textLength="14.57" lengthAdjust="spacingAndGlyphs" fill="#1a1a1a">200</text>
<path d="M215.04,275 V278" stroke="#8a8a8a" stroke-width="0.8"/>
<text x="215.04" y="287.3" font-size="8" text-anchor="middle" textLength="14.32" lengthAdjust="spacingAndGlyphs" fill="#1a1a1a">400</text>
<path d="M237.46,275 V278" stroke="#8a8a8a" stroke-width="0.8"/>
<text x="237.46" y="287.3" font-size="8" text-anchor="middle" textLength="14.57" lengthAdjust="spacingAndGlyphs" fill="#1a1a1a">600</text>
<path d="M259.88,275 V278" stroke="#8a8a8a" stroke-width="0.8"/>
<text x="259.88" y="287.3" font-size="8" text-anchor="middle" textLength="14.5" lengthAdjust="spacingAndGlyphs" fill="#1a1a1a">800</text>
<path d="M282.3,275 V278" stroke="#8a8a8a" stroke-width="0.8"/>
<text x="282.3" y="287.3" font-size="8" text-anchor="middle" textLength="15.46" lengthAdjust="spacingAndGlyphs" fill="#1a1a1a">1.0K</text>
<text x="223.2" y="297.8" font-size="8" text-anchor="middle" textLength="56.94" lengthAdjust="spacingAndGlyphs" fill="#1a1a1a">Intensity (PI-A)</text>
<text x="226.2" y="158.9" font-size="8" text-anchor="middle" textLength="16.11" lengthAdjust="spacingAndGlyphs" fill="#1a1a1a">PDS</text>
<path d="M193,218.3 H200" stroke="#2a5cb0" stroke-width="1.9"/>
<path d="M193.3,215.4 V221.2 M199.7,215.4 V221.2" stroke="#2a5cb0" stroke-width="1.5"/>
<path d="M200,224.5 H210.5" stroke="#c4b412" stroke-width="1.9"/>
<path d="M200.3,221.6 V227.4 M210.2,221.6 V227.4" stroke="#c4b412" stroke-width="1.5"/>
<path d="M210.5,230.7 H230.5" stroke="#66bb33" stroke-width="1.9"/>
<path d="M210.8,227.8 V233.6 M230.2,227.8 V233.6" stroke="#66bb33" stroke-width="1.5"/>
<rect x="193" y="190" width="7" height="14" fill="#fff" fill-opacity="0.8"/>
<text x="196.5" y="195.2" font-size="5.7" text-anchor="middle" fill="#222">G1</text>
<text x="196.5" y="201.5" font-size="5.7" text-anchor="middle" fill="#222">56.7%</text>
<rect x="212.5" y="208" width="18" height="13" fill="#fff" fill-opacity="0.72"/>
<text x="221.7" y="213.2" font-size="5.7" text-anchor="middle" fill="#111">G2</text>
<text x="221.7" y="219.5" font-size="5.7" text-anchor="middle" fill="#111">25.3%</text>
<rect x="196.5" y="233.3" width="16" height="13.4" fill="#fff" fill-opacity="0.72"/>
<text x="204.5" y="238.7" font-size="5.7" text-anchor="middle" fill="#111">S</text>
<text x="204.5" y="245" font-size="5.7" text-anchor="middle" fill="#111">17.6%</text>
<rect x="333.2" y="161.6" width="6.8" height="113.4" fill="#cbd7ec"/>
<rect x="340" y="161.6" width="8.8" height="113.4" fill="#f0eccf"/>
<rect x="348.8" y="161.6" width="24.2" height="113.4" fill="#dfedd5"/>
<clipPath id="clip310"><path d="M310.2,275 C313.33,275 325.53,275.25 329,275 C332.47,274.75 330.4,275 331,273.5 C331.6,272 332.17,271.58 332.6,266 C333.03,260.42 333.27,251.83 333.6,240 C333.93,228.17 334.27,206.33 334.6,195 C334.93,183.67 335.32,177.05 335.6,172 C335.88,166.95 336.05,164.7 336.3,164.7 C336.55,164.7 336.78,164.45 337.1,172 C337.42,179.55 337.82,199.33 338.2,210 C338.58,220.67 338.97,230.17 339.4,236 C339.83,241.83 340.37,243 340.8,245 C341.23,247 341.38,246.5 342,248 C342.62,249.5 343.72,252.22 344.5,254 C345.28,255.78 345.95,257.45 346.7,258.7 C347.45,259.95 348.2,260.83 349,261.5 C349.8,262.17 350.58,262.58 351.5,262.7 C352.42,262.82 353.53,262.4 354.5,262.2 C355.47,262 356.47,262.2 357.3,261.5 C358.13,260.8 358.83,259 359.5,258 C360.17,257 360.72,255.5 361.3,255.5 C361.88,255.5 362.33,256.08 363,258 C363.67,259.92 364.47,264.58 365.3,267 C366.13,269.42 367.05,271.25 368,272.5 C368.95,273.75 369.67,274.08 371,274.5 C372.33,274.92 367.25,274.92 376,275 C384.75,275.08 415.58,275 423.5,275 Z"/></clipPath>
<g clip-path="url(#clip310)">
<rect x="310.2" y="161.6" width="113.3" height="113.4" fill="#8c8c8c"/>
<rect x="333.2" y="161.6" width="6.8" height="113.4" fill="#74819d"/>
<rect x="340" y="161.6" width="8.8" height="113.4" fill="#a09e78"/>
<rect x="348.8" y="161.6" width="24.2" height="113.4" fill="#879d7b"/>
</g>
<path d="M310.2,275 V161.6 H423.5 V275" fill="none" stroke="#9a9a9a" stroke-width="0.8"/>
<path d="M310.2,275 C313.33,275 325.53,275.25 329,275 C332.47,274.75 330.4,275 331,273.5 C331.6,272 332.17,271.58 332.6,266 C333.03,260.42 333.27,251.83 333.6,240 C333.93,228.17 334.27,206.33 334.6,195 C334.93,183.67 335.32,177.05 335.6,172 C335.88,166.95 336.05,164.7 336.3,164.7 C336.55,164.7 336.78,164.45 337.1,172 C337.42,179.55 337.82,199.33 338.2,210 C338.58,220.67 338.97,230.17 339.4,236 C339.83,241.83 340.37,243 340.8,245 C341.23,247 341.38,246.5 342,248 C342.62,249.5 343.72,252.22 344.5,254 C345.28,255.78 345.95,257.45 346.7,258.7 C347.45,259.95 348.2,260.83 349,261.5 C349.8,262.17 350.58,262.58 351.5,262.7 C352.42,262.82 353.53,262.4 354.5,262.2 C355.47,262 356.47,262.2 357.3,261.5 C358.13,260.8 358.83,259 359.5,258 C360.17,257 360.72,255.5 361.3,255.5 C361.88,255.5 362.33,256.08 363,258 C363.67,259.92 364.47,264.58 365.3,267 C366.13,269.42 367.05,271.25 368,272.5 C368.95,273.75 369.67,274.08 371,274.5 C372.33,274.92 367.25,274.92 376,275 C384.75,275.08 415.58,275 423.5,275" fill="none" stroke="#111" stroke-width="1.1"/>
<path d="M307.2,275 H310.2" stroke="#8a8a8a" stroke-width="0.8"/>
<text x="304.4" y="277.8" font-size="8" text-anchor="end" textLength="5.71" lengthAdjust="spacingAndGlyphs" fill="#1a1a1a">0</text>
<path d="M307.2,237.2 H310.2" stroke="#8a8a8a" stroke-width="0.8"/>
<text x="304.4" y="240" font-size="8" text-anchor="end" textLength="14.57" lengthAdjust="spacingAndGlyphs" fill="#1a1a1a">200</text>
<path d="M307.2,199.4 H310.2" stroke="#8a8a8a" stroke-width="0.8"/>
<text x="304.4" y="202.2" font-size="8" text-anchor="end" textLength="14.32" lengthAdjust="spacingAndGlyphs" fill="#1a1a1a">400</text>
<path d="M307.2,161.6 H310.2" stroke="#8a8a8a" stroke-width="0.8"/>
<text x="304.4" y="164.4" font-size="8" text-anchor="end" textLength="14.57" lengthAdjust="spacingAndGlyphs" fill="#1a1a1a">600</text>
<path d="M310.2,275 V278" stroke="#8a8a8a" stroke-width="0.8"/>
<text x="310.2" y="287.3" font-size="8" text-anchor="middle" textLength="5.71" lengthAdjust="spacingAndGlyphs" fill="#1a1a1a">0</text>
<path d="M332.86,275 V278" stroke="#8a8a8a" stroke-width="0.8"/>
<text x="332.86" y="287.3" font-size="8" text-anchor="middle" textLength="14.57" lengthAdjust="spacingAndGlyphs" fill="#1a1a1a">200</text>
<path d="M355.52,275 V278" stroke="#8a8a8a" stroke-width="0.8"/>
<text x="355.52" y="287.3" font-size="8" text-anchor="middle" textLength="14.32" lengthAdjust="spacingAndGlyphs" fill="#1a1a1a">400</text>
<path d="M378.18,275 V278" stroke="#8a8a8a" stroke-width="0.8"/>
<text x="378.18" y="287.3" font-size="8" text-anchor="middle" textLength="14.57" lengthAdjust="spacingAndGlyphs" fill="#1a1a1a">600</text>
<path d="M400.84,275 V278" stroke="#8a8a8a" stroke-width="0.8"/>
<text x="400.84" y="287.3" font-size="8" text-anchor="middle" textLength="14.5" lengthAdjust="spacingAndGlyphs" fill="#1a1a1a">800</text>
<path d="M423.5,275 V278" stroke="#8a8a8a" stroke-width="0.8"/>
<text x="423.5" y="287.3" font-size="8" text-anchor="middle" textLength="15.46" lengthAdjust="spacingAndGlyphs" fill="#1a1a1a">1.0K</text>
<text x="367" y="297.8" font-size="8" text-anchor="middle" textLength="56.94" lengthAdjust="spacingAndGlyphs" fill="#1a1a1a">Intensity (PI-A)</text>
<text x="367.4" y="158.9" font-size="8" text-anchor="middle" textLength="56.77" lengthAdjust="spacingAndGlyphs" fill="#1a1a1a">G4L-PROTAC11</text>
<path d="M333.2,211.3 H340" stroke="#2a5cb0" stroke-width="1.9"/>
<path d="M333.5,208.4 V214.2 M339.7,208.4 V214.2" stroke="#2a5cb0" stroke-width="1.5"/>
<path d="M340,218 H348.8" stroke="#c4b412" stroke-width="1.9"/>
<path d="M340.3,215.1 V220.9 M348.5,215.1 V220.9" stroke="#c4b412" stroke-width="1.5"/>
<path d="M348.8,223.6 H373" stroke="#66bb33" stroke-width="1.9"/>
<path d="M349.1,220.7 V226.5 M372.7,220.7 V226.5" stroke="#66bb33" stroke-width="1.5"/>
<rect x="333.2" y="180" width="6.8" height="14" fill="#fff" fill-opacity="0.8"/>
<text x="337.5" y="185.4" font-size="5.7" text-anchor="middle" fill="#222">G1</text>
<text x="337.5" y="191.7" font-size="5.7" text-anchor="middle" fill="#222">49.4%</text>
<rect x="352.5" y="201.2" width="18.8" height="13.3" fill="#fff" fill-opacity="0.72"/>
<text x="361.8" y="206.6" font-size="5.7" text-anchor="middle" fill="#111">G2</text>
<text x="361.8" y="212.9" font-size="5.7" text-anchor="middle" fill="#111">30.0%</text>
<rect x="337.3" y="230" width="16" height="12.7" fill="#fff" fill-opacity="0.72"/>
<text x="345.3" y="235" font-size="5.7" text-anchor="middle" fill="#111">S</text>
<text x="345.3" y="241.3" font-size="5.7" text-anchor="middle" fill="#111">20.6%</text>
<rect x="477.1" y="161.8" width="7" height="113.2" fill="#cbd7ec"/>
<rect x="484.1" y="161.8" width="15.9" height="113.2" fill="#f0eccf"/>
<rect x="500" y="161.8" width="15" height="113.2" fill="#dfedd5"/>
<clipPath id="clip449"><path d="M449.1,275 C452.53,275 465.55,275.12 469.7,275 C473.85,274.88 472.83,274.72 474,274.3 C475.17,273.88 475.9,273.47 476.7,272.5 C477.5,271.53 478.2,270.02 478.8,268.5 C479.4,266.98 479.83,263.9 480.3,263.4 C480.77,262.9 481.15,264.32 481.6,265.5 C482.05,266.68 482.43,269.72 483,270.5 C483.57,271.28 484.33,270.78 485,270.2 C485.67,269.62 486.38,268.15 487,267 C487.62,265.85 488.12,264.8 488.7,263.3 C489.28,261.8 489.9,259.98 490.5,258 C491.1,256.02 491.53,254.5 492.3,251.4 C493.07,248.3 494.1,242.55 495.1,239.4 C496.1,236.25 497.27,234.03 498.3,232.5 C499.33,230.97 500.25,230.52 501.3,230.2 C502.35,229.88 503.73,230.13 504.6,230.6 C505.47,231.07 505.97,231.27 506.5,233 C507.03,234.73 507.37,237.33 507.8,241 C508.23,244.67 508.67,250.67 509.1,255 C509.53,259.33 509.92,263.97 510.4,267 C510.88,270.03 511.3,271.92 512,273.2 C512.7,274.48 513.6,274.4 514.6,274.7 C515.6,275 510.22,274.95 518,275 C525.78,275.05 554.08,275 561.3,275 Z"/></clipPath>
<g clip-path="url(#clip449)">
<rect x="449.1" y="161.8" width="112.2" height="113.2" fill="#8c8c8c"/>
<rect x="477.1" y="161.8" width="7" height="113.2" fill="#74819d"/>
<rect x="484.1" y="161.8" width="15.9" height="113.2" fill="#a09e78"/>
<rect x="500" y="161.8" width="15" height="113.2" fill="#879d7b"/>
</g>
<path d="M449.1,275 V161.8 H561.3 V275" fill="none" stroke="#9a9a9a" stroke-width="0.8"/>
<path d="M449.1,275 C452.53,275 465.55,275.12 469.7,275 C473.85,274.88 472.83,274.72 474,274.3 C475.17,273.88 475.9,273.47 476.7,272.5 C477.5,271.53 478.2,270.02 478.8,268.5 C479.4,266.98 479.83,263.9 480.3,263.4 C480.77,262.9 481.15,264.32 481.6,265.5 C482.05,266.68 482.43,269.72 483,270.5 C483.57,271.28 484.33,270.78 485,270.2 C485.67,269.62 486.38,268.15 487,267 C487.62,265.85 488.12,264.8 488.7,263.3 C489.28,261.8 489.9,259.98 490.5,258 C491.1,256.02 491.53,254.5 492.3,251.4 C493.07,248.3 494.1,242.55 495.1,239.4 C496.1,236.25 497.27,234.03 498.3,232.5 C499.33,230.97 500.25,230.52 501.3,230.2 C502.35,229.88 503.73,230.13 504.6,230.6 C505.47,231.07 505.97,231.27 506.5,233 C507.03,234.73 507.37,237.33 507.8,241 C508.23,244.67 508.67,250.67 509.1,255 C509.53,259.33 509.92,263.97 510.4,267 C510.88,270.03 511.3,271.92 512,273.2 C512.7,274.48 513.6,274.4 514.6,274.7 C515.6,275 510.22,274.95 518,275 C525.78,275.05 554.08,275 561.3,275" fill="none" stroke="#111" stroke-width="1.1"/>
<path d="M446.1,275 H449.1" stroke="#8a8a8a" stroke-width="0.8"/>
<text x="443.3" y="277.8" font-size="8" text-anchor="end" textLength="5.71" lengthAdjust="spacingAndGlyphs" fill="#1a1a1a">0</text>
<path d="M446.1,237.27 H449.1" stroke="#8a8a8a" stroke-width="0.8"/>
<text x="443.3" y="240.07" font-size="8" text-anchor="end" textLength="14.57" lengthAdjust="spacingAndGlyphs" fill="#1a1a1a">200</text>
<path d="M446.1,199.53 H449.1" stroke="#8a8a8a" stroke-width="0.8"/>
<text x="443.3" y="202.33" font-size="8" text-anchor="end" textLength="14.32" lengthAdjust="spacingAndGlyphs" fill="#1a1a1a">400</text>
<path d="M446.1,161.8 H449.1" stroke="#8a8a8a" stroke-width="0.8"/>
<text x="443.3" y="164.6" font-size="8" text-anchor="end" textLength="14.57" lengthAdjust="spacingAndGlyphs" fill="#1a1a1a">600</text>
<path d="M449.1,275 V278" stroke="#8a8a8a" stroke-width="0.8"/>
<text x="449.1" y="287.3" font-size="8" text-anchor="middle" textLength="5.71" lengthAdjust="spacingAndGlyphs" fill="#1a1a1a">0</text>
<path d="M471.54,275 V278" stroke="#8a8a8a" stroke-width="0.8"/>
<text x="471.54" y="287.3" font-size="8" text-anchor="middle" textLength="14.57" lengthAdjust="spacingAndGlyphs" fill="#1a1a1a">200</text>
<path d="M493.98,275 V278" stroke="#8a8a8a" stroke-width="0.8"/>
<text x="493.98" y="287.3" font-size="8" text-anchor="middle" textLength="14.32" lengthAdjust="spacingAndGlyphs" fill="#1a1a1a">400</text>
<path d="M516.42,275 V278" stroke="#8a8a8a" stroke-width="0.8"/>
<text x="516.42" y="287.3" font-size="8" text-anchor="middle" textLength="14.57" lengthAdjust="spacingAndGlyphs" fill="#1a1a1a">600</text>
<path d="M538.86,275 V278" stroke="#8a8a8a" stroke-width="0.8"/>
<text x="538.86" y="287.3" font-size="8" text-anchor="middle" textLength="14.5" lengthAdjust="spacingAndGlyphs" fill="#1a1a1a">800</text>
<path d="M561.3,275 V278" stroke="#8a8a8a" stroke-width="0.8"/>
<text x="561.3" y="287.3" font-size="8" text-anchor="middle" textLength="15.46" lengthAdjust="spacingAndGlyphs" fill="#1a1a1a">1.0K</text>
<text x="506.5" y="297.8" font-size="8" text-anchor="middle" textLength="56.94" lengthAdjust="spacingAndGlyphs" fill="#1a1a1a">Intensity (PI-A)</text>
<text x="505.5" y="158.9" font-size="8" text-anchor="middle" textLength="54.75" lengthAdjust="spacingAndGlyphs" fill="#1a1a1a">G4L-PROTAC3</text>
<path d="M477.1,218.5 H484.1" stroke="#2a5cb0" stroke-width="1.9"/>
<path d="M477.4,215.6 V221.4 M483.8,215.6 V221.4" stroke="#2a5cb0" stroke-width="1.5"/>
<path d="M484.1,224.2 H500" stroke="#c4b412" stroke-width="1.9"/>
<path d="M484.4,221.3 V227.1 M499.7,221.3 V227.1" stroke="#c4b412" stroke-width="1.5"/>
<path d="M500,229.8 H515" stroke="#66bb33" stroke-width="1.9"/>
<path d="M500.3,226.9 V232.7 M514.7,226.9 V232.7" stroke="#66bb33" stroke-width="1.5"/>
<rect x="477.1" y="189.5" width="7" height="13" fill="#fff" fill-opacity="0.8"/>
<text x="482" y="194.5" font-size="5.7" text-anchor="middle" fill="#222">G1</text>
<text x="482" y="200.8" font-size="5.7" text-anchor="middle" fill="#222">6.39%</text>
<rect x="502.3" y="207.5" width="18.7" height="13.5" fill="#fff" fill-opacity="0.72"/>
<text x="510.5" y="213.5" font-size="5.7" text-anchor="middle" fill="#111">G2</text>
<text x="510.5" y="219.8" font-size="5.7" text-anchor="middle" fill="#111">47.8%</text>
<rect x="483.7" y="231.5" width="17.5" height="15.8" fill="#fff" fill-opacity="0.72"/>
<text x="492.5" y="237.8" font-size="5.7" text-anchor="middle" fill="#111">S</text>
<text x="492.5" y="244.1" font-size="5.7" text-anchor="middle" fill="#111">44.9%</text>
<text transform="translate(575.6,210.5) rotate(-90)" font-size="8" text-anchor="middle" textLength="53.33" lengthAdjust="spacingAndGlyphs" fill="#1a1a1a">Cell number (%)</text>
<rect x="603.4" y="176.3" width="10.4" height="17.33" fill="#d9ead3" stroke="#777" stroke-width="0.75"/>
<rect x="603.4" y="193.63" width="10.4" height="16.87" fill="#efedd0" stroke="#777" stroke-width="0.75"/>
<rect x="603.4" y="210.5" width="10.4" height="41.8" fill="#cfd9ee" stroke="#777" stroke-width="0.75"/>
<path d="M608.6,252.3 V255.6" stroke="#555" stroke-width="0.8"/>
<text transform="translate(613,261.2) rotate(-45)" font-size="6.5" text-anchor="end" fill="#1a1a1a">DMSO</text>
<rect x="619.3" y="176.3" width="10.4" height="19.53" fill="#d9ead3" stroke="#777" stroke-width="0.75"/>
<rect x="619.3" y="195.83" width="10.4" height="13.38" fill="#efedd0" stroke="#777" stroke-width="0.75"/>
<rect x="619.3" y="209.21" width="10.4" height="43.09" fill="#cfd9ee" stroke="#777" stroke-width="0.75"/>
<path d="M624.5,252.3 V255.6" stroke="#555" stroke-width="0.8"/>
<text transform="translate(628.9,261.2) rotate(-45)" font-size="6.5" text-anchor="end" fill="#1a1a1a">PDS</text>
<rect x="634.9" y="176.3" width="10.4" height="24.24" fill="#d9ead3" stroke="#777" stroke-width="0.75"/>
<rect x="634.9" y="200.54" width="10.4" height="16.11" fill="#efedd0" stroke="#777" stroke-width="0.75"/>
<rect x="634.9" y="216.66" width="10.4" height="35.64" fill="#cfd9ee" stroke="#777" stroke-width="0.75"/>
<path d="M640.1,252.3 V255.6" stroke="#555" stroke-width="0.8"/>
<text transform="translate(644.5,261.2) rotate(-45)" font-size="6.5" text-anchor="end" fill="#1a1a1a">G4L-PROTAC11</text>
<rect x="650.5" y="176.3" width="10.4" height="37.02" fill="#d9ead3" stroke="#777" stroke-width="0.75"/>
<rect x="650.5" y="213.32" width="10.4" height="34.12" fill="#efedd0" stroke="#777" stroke-width="0.75"/>
<rect x="650.5" y="247.44" width="10.4" height="4.86" fill="#cfd9ee" stroke="#777" stroke-width="0.75"/>
<path d="M655.7,252.3 V255.6" stroke="#555" stroke-width="0.8"/>
<text transform="translate(660.1,261.2) rotate(-45)" font-size="6.5" text-anchor="end" fill="#1a1a1a">G4L-PROTAC3</text>
<path d="M598.6,176.3 V252.3 M596,252.3 H666.2" stroke="#555" stroke-width="0.8" fill="none"/>
<path d="M595.3,252.3 H598.6" stroke="#555" stroke-width="0.8"/>
<text x="592.6" y="255.1" font-size="8" text-anchor="end" textLength="5.71" lengthAdjust="spacingAndGlyphs" fill="#1a1a1a">0</text>
<path d="M595.3,214.3 H598.6" stroke="#555" stroke-width="0.8"/>
<text x="592.6" y="217.1" font-size="8" text-anchor="end" textLength="9.91" lengthAdjust="spacingAndGlyphs" fill="#1a1a1a">50</text>
<path d="M595.3,176.3 H598.6" stroke="#555" stroke-width="0.8"/>
<text x="592.6" y="179.1" font-size="8" text-anchor="end" textLength="13.09" lengthAdjust="spacingAndGlyphs" fill="#1a1a1a">100</text>
<rect x="664.4" y="199.4" width="7" height="7" fill="#cfd9ee" stroke="#666" stroke-width="0.75"/>
<text x="674.5" y="205.8" font-size="8" fill="#1a1a1a">G1</text>
<rect x="664.4" y="210.2" width="7" height="7" fill="#efedd0" stroke="#666" stroke-width="0.75"/>
<text x="674.5" y="216.6" font-size="8" fill="#1a1a1a">S</text>
<rect x="664.4" y="220.8" width="7" height="7" fill="#d9ead3" stroke="#666" stroke-width="0.75"/>
<text x="674.5" y="227.2" font-size="8" fill="#1a1a1a">G2</text>
</svg>
</body></html>
